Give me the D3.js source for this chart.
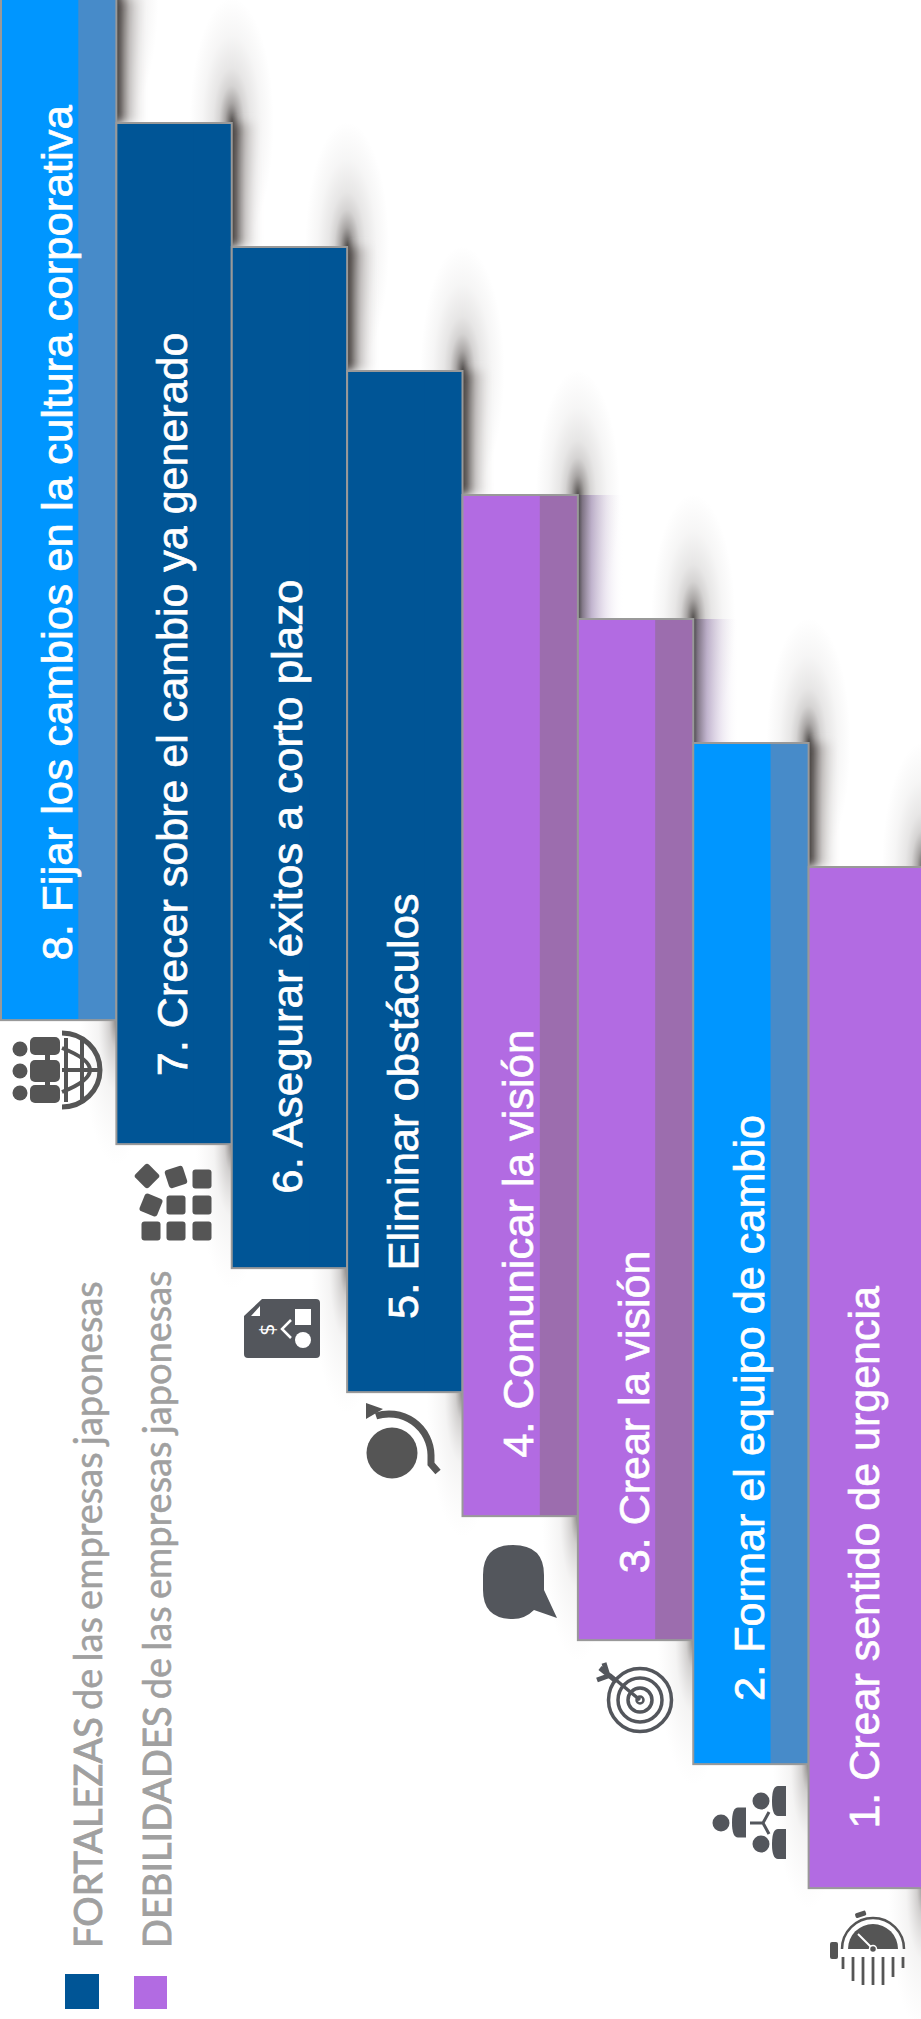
<!DOCTYPE html>
<html lang="es">
<head>
<meta charset="utf-8">
<script src="https://cdn.jsdelivr.net/npm/d3@7/dist/d3.min.js"></script>
<style>
  html, body { margin: 0; padding: 0; background: #fff; }
  svg { display: block; }
</style>
</head>
<body>
<svg id="chart" width="921" height="2019"></svg>
<script>
// Kotter's eight steps, climbing like a staircase
const stepRanks = [8, 7, 6, 5, 4, 3, 2, 1];
const stepLabels = [
  "8. Fijar los cambios en la cultura corporativa",
  "7. Crecer sobre el cambio ya generado",
  "6. Asegurar éxitos a corto plazo",
  "5. Eliminar obstáculos",
  "4. Comunicar la visión",
  "3. Crear la visión",
  "2. Formar el equipo de cambio",
  "1. Crear sentido de urgencia"
];
const stepKinds = ["mixed", "strength", "strength", "strength", "weakness", "weakness", "mixed", "plainWeakness"];
const stepSpans = [8.235, 8.235, 8.235, 8.235, 8.235, 8.235, 8.235, 8.235];
const frontShare = [0.67, 0.67, 0.67, 0.67, 0.67, 0.67, 0.67, 1];
const labelOffsets = [0.48, 0.55, 0.6, 0.59, 0.47, 0.54, 0.51, 0.48];
const labelStretch = [1.017, 1, 1.02, 1.012, 1.012, 1, 1.005, 1];

const kindFront = { mixed: "#0096ff", strength: "#005596", weakness: "#b26be2", plainWeakness: "#b26be2" };
const kindBack = { mixed: "#478bc9", strength: "#005596", weakness: "#9c6dae", plainWeakness: "#b26be2" };

const legendLabels = [["FORTALEZAS", " de las empresas japonesas"], ["DEBILIDADES", " de las empresas japonesas"]];
const legendColors = ["#005596", "#b26be2"];

const svg = d3.select("#chart");
const x = d3.scaleBand().domain(stepRanks).range([1, 924]);
const y = d3.scaleLinear().domain([8, 1]).range([-1, 867]);
const stepH = y(1) - y(2);

const steps = stepRanks.map((rank, i) => ({
  rank, label: stepLabels[i], kind: stepKinds[i], span: stepSpans[i], share: frontShare[i],
  offset: labelOffsets[i], stretch: labelStretch[i]
}));

// ---- gradients for the soft cast shadows
const defs = svg.append("defs");
function linear(id, stops) {
  const g = defs.append("linearGradient").attr("id", id);
  stops.forEach(([o, c, a]) => g.append("stop").attr("offset", o).attr("stop-color", c).attr("stop-opacity", a));
}
function radial(id, stops) {
  const g = defs.append("radialGradient").attr("id", id);
  stops.forEach(([o, c, a]) => g.append("stop").attr("offset", o).attr("stop-color", c).attr("stop-opacity", a));
}
linear("edgeGrey", [[0, "#45413f", 1], [0.14, "#5f5a58", .9], [0.4, "#a8a3a1", .6], [0.7, "#d8d5d4", .3], [1, "#ffffff", 0]]);
linear("edgePurple", [[0, "#474547", 1], [0.1, "#7d7283", .95], [0.3, "#b3a3c3", .8], [0.6, "#ddd3e6", .55], [1, "#ffffff", 0]]);
radial("plumeUp", [[0, "#3d3937", .9], [0.16, "#5a5452", .52], [0.3, "#6a6462", .28], [0.44, "#6a6462", .16], [0.7, "#6a6462", .06], [1, "#6a6462", 0]]);
radial("plumeDown", [[0, "#55504e", .7], [0.2, "#807a78", .36], [0.5, "#a5a09e", .12], [1, "#c0bcbb", 0]]);

// Softens the upper end of the grey edge shadows
const soft = defs.append("filter").attr("id", "softTop")
  .attr("x", "-5%").attr("y", "-30%").attr("width", "110%").attr("height", "160%");
soft.append("feGaussianBlur").attr("stdDeviation", "0 5");

const shadows = svg.append("g");
shadows.selectAll("ellipse.up").data(steps).join("ellipse").attr("class", "up")
  .attr("cx", d => x(d.rank) + x.bandwidth())
  .attr("cy", d => y(d.rank))
  .attr("rx", 42).attr("ry", 125)
  .attr("fill", "url(#plumeUp)");
shadows.selectAll("ellipse.down").data(steps).join("ellipse").attr("class", "down")
  .attr("cx", d => x(d.rank) + x.bandwidth())
  .attr("cy", d => y(d.rank - d.span))
  .attr("rx", 36).attr("ry", 145)
  .attr("fill", "url(#plumeDown)");
shadows.selectAll("rect").data(steps.filter(d => d.rank > 1)).join("rect")
  .attr("x", d => x(d.rank) + x.bandwidth())
  .attr("y", d => y(d.rank))
  .attr("width", d => d.kind === "weakness" ? 46 : 34)
  .attr("height", stepH)
  .attr("fill", d => d.kind === "weakness" ? "url(#edgePurple)" : "url(#edgeGrey)")
  .attr("filter", d => d.kind === "weakness" ? null : "url(#softTop)");

// ---- the staircase bars: a front band and a darker back band
const bars = svg.append("g").selectAll("g").data(steps).join("g");
bars.append("rect")
  .attr("x", d => x(d.rank)).attr("y", d => y(d.rank))
  .attr("width", x.bandwidth()).attr("height", d => y(d.rank - d.span) - y(d.rank))
  .attr("fill", d => kindBack[d.kind]);
bars.append("rect")
  .attr("x", d => x(d.rank)).attr("y", d => y(d.rank))
  .attr("width", d => x.bandwidth() * d.share).attr("height", d => y(d.rank - d.span) - y(d.rank))
  .attr("fill", d => kindFront[d.kind]);
bars.append("rect")
  .attr("x", d => x(d.rank)).attr("y", d => y(d.rank))
  .attr("width", x.bandwidth()).attr("height", d => y(d.rank - d.span) - y(d.rank))
  .attr("fill", "none").attr("stroke", "#999").attr("stroke-width", 2);

bars.append("text")
  .attr("transform", d => `translate(${x(d.rank) + x.bandwidth() / 2 + 13},${y(d.rank - d.span) - d.offset * stepH}) rotate(-90) scale(${d.stretch},1)`)
  .attr("font-family", "'Liberation Sans', Arial, sans-serif")
  .attr("font-size", 43)
  .attr("fill", "#fff")
  .attr("stroke", "#fff").attr("stroke-width", 0.7)
  .text(d => d.label);

// ---- legend
const legend = svg.append("g").selectAll("g").data(legendLabels).join("g");
legend.append("rect")
  .attr("x", (d, i) => [65, 134][i]).attr("y", (d, i) => [1974, 1976][i])
  .attr("width", (d, i) => [34, 33][i]).attr("height", (d, i) => [35, 33][i])
  .attr("fill", (d, i) => legendColors[i]);
legend.append("text")
  .attr("transform", (d, i) => `translate(${[102, 171][i]},1948) rotate(-90)`)
  .attr("font-family", "Lato, sans-serif").attr("font-size", 38).attr("fill", "#a0a0a0")
  .attr("word-spacing", -2.5)
  .selectAll("tspan").data(d => d).join("tspan")
  .attr("stroke", "#a0a0a0").attr("stroke-width", (d, i) => i === 0 ? 0.9 : 0.5)
  .text(d => d);

// ---- step pictograms
const ink = "#53565c", ink2 = "#555555";
const icons = svg.append("g");

// 8: people and globe
const g8 = icons.append("g").attr("fill", ink2);
[[1049, 1037, 18], [1071, 1060, 22], [1093, 1085, 18]].forEach(([cy, top, h]) => {
  g8.append("circle").attr("cx", 20).attr("cy", cy).attr("r", 7.5);
  g8.append("rect").attr("x", 30).attr("y", top).attr("width", 30).attr("height", h).attr("rx", 5);
});
g8.append("rect").attr("x", 45).attr("y", 1037).attr("width", 5).attr("height", 66).attr("fill", ink2);
const globe = icons.append("g").attr("fill", "none").attr("stroke", ink2).attr("stroke-width", 4);
globe.append("path").attr("d", "M62,1033 A38,37 0 0 1 62,1107").attr("stroke-width", 5);
globe.append("path").attr("d", "M62,1048 Q118,1070 62,1092");
globe.append("path").attr("d", "M66,1038 L66,1102");
globe.append("path").attr("d", "M82,1040 L82,1100");
globe.append("path").attr("d", "M62,1070 L100,1070");

// 7: tidying blocks
const blocks = [[151, 1231, 0], [176, 1231, 0], [202, 1231, 0], [176, 1205, 0], [202, 1205, 0], [202, 1179, 0],
                [151, 1205, 22], [176, 1177, -18], [147, 1176, 45]];
icons.append("g").selectAll("rect").data(blocks).join("rect")
  .attr("x", -9.5).attr("y", -9.5).attr("width", 19).attr("height", 19).attr("rx", 3)
  .attr("transform", d => `translate(${d[0]},${d[1]}) rotate(${d[2]})`)
  .attr("fill", ink2);

// 6: sheet with money and shapes
const g6 = icons.append("g");
g6.append("path").attr("d", "M262,1299 L316,1299 Q320,1299 320,1303 L320,1354 Q320,1358 316,1358 L248,1358 Q244,1358 244,1354 L244,1316 Z").attr("fill", ink);
g6.append("path").attr("d", "M260,1306 L260,1316 L251,1316 Z").attr("fill", "#fff");
g6.append("rect").attr("x", 295).attr("y", 1309).attr("width", 16).attr("height", 16).attr("fill", "#fff");
g6.append("circle").attr("cx", 303).attr("cy", 1340).attr("r", 8).attr("fill", "#fff");
g6.append("path").attr("d", "M291,1320 L282,1329 L291,1338").attr("fill", "none").attr("stroke", "#fff").attr("stroke-width", 2.5);
g6.append("text").attr("transform", "translate(274,1336) rotate(-90)").attr("font-family", "'DejaVu Sans'").attr("font-size", 20).attr("fill", "#fff").text("$");

// 5: obstacle and detour
const g5 = icons.append("g");
g5.append("circle").attr("cx", 392).attr("cy", 1453).attr("r", 25.5).attr("fill", ink2);
g5.append("path").attr("d", "M376,1416 A42,42 0 0 1 431,1455 L431,1464 L438,1472").attr("fill", "none").attr("stroke", ink2).attr("stroke-width", 7);
g5.append("path").attr("d", "M366,1403 L383,1409 L366,1419 Z").attr("fill", ink2);

// 4: speech bubble
icons.append("path")
  .attr("d", "M513,1545 Q544,1545 544,1575 L544,1590 L557,1618 L534,1610 Q525,1619 513,1619 Q483,1619 483,1590 L483,1575 Q483,1545 513,1545 Z")
  .attr("fill", ink);

// 3: target with arrow
const g3 = icons.append("g").attr("fill", "none").attr("stroke", ink);
[[31.5, 3.5], [22, 3.5], [12, 3.5]].forEach(([r, w]) =>
  g3.append("circle").attr("cx", 640).attr("cy", 1700).attr("r", r).attr("stroke-width", w));
g3.append("circle").attr("cx", 640).attr("cy", 1700).attr("r", 3.5).attr("stroke-width", 2.5);
g3.append("path").attr("d", "M640,1700 L610,1675").attr("stroke-width", 3.5);
g3.append("path").attr("d", "M616,1681 L600,1668 M608,1676 L597,1680 M608,1676 L604,1663").attr("stroke-width", 5);

// 2: team forming
const g2 = icons.append("g").attr("fill", ink);
[[721, 1823, 732, 1807.5], [761, 1801, 772, 1786], [761, 1844, 772, 1829]].forEach(([hx, hy, bx, by]) => {
  g2.append("circle").attr("cx", hx).attr("cy", hy).attr("r", 8.5);
  g2.append("path").attr("d", `M${bx + 14},${by} L${bx + 6},${by} Q${bx},${by} ${bx},${by + 15} Q${bx},${by + 30} ${bx + 6},${by + 30} L${bx + 14},${by + 30} Z`);
});
g2.append("path").attr("d", "M750,1823 L763,1823 L769,1812 M763,1823 L769,1834").attr("fill", "none").attr("stroke", ink).attr("stroke-width", 3);

// 1: stopwatch over a fingerprint
const g1 = icons.append("g");
g1.append("path").attr("d", "M842,1949 A31,31 0 0 1 904,1949").attr("fill", "none").attr("stroke", ink2).attr("stroke-width", 2.5);
g1.append("path").attr("d", "M848,1949 A25,25 0 0 1 898,1949 Z").attr("fill", ink2);
g1.append("path").attr("d", "M873,1949 L858,1934").attr("stroke", "#fff").attr("stroke-width", 2);
g1.append("circle").attr("cx", 873).attr("cy", 1949).attr("r", 3.5).attr("fill", ink2).attr("stroke", "#fff").attr("stroke-width", 1.5);
g1.append("rect").attr("x", 830).attr("y", 1942).attr("width", 8).attr("height", 17).attr("rx", 2).attr("fill", ink2);
g1.append("rect").attr("x", 855).attr("y", 1912).attr("width", 11).attr("height", 5).attr("rx", 1.5).attr("fill", ink2).attr("transform", "rotate(-18 860 1914)");
[[843, 1957, 1969], [853, 1957, 1981], [863, 1957, 1985], [873, 1957, 1985], [883, 1957, 1985], [893, 1957, 1977], [903, 1957, 1968]].forEach(([lx, y0, y1]) =>
  g1.append("line").attr("x1", lx).attr("x2", lx).attr("y1", y0).attr("y2", y1).attr("stroke", ink2).attr("stroke-width", 2.8));
</script>
</body>
</html>
